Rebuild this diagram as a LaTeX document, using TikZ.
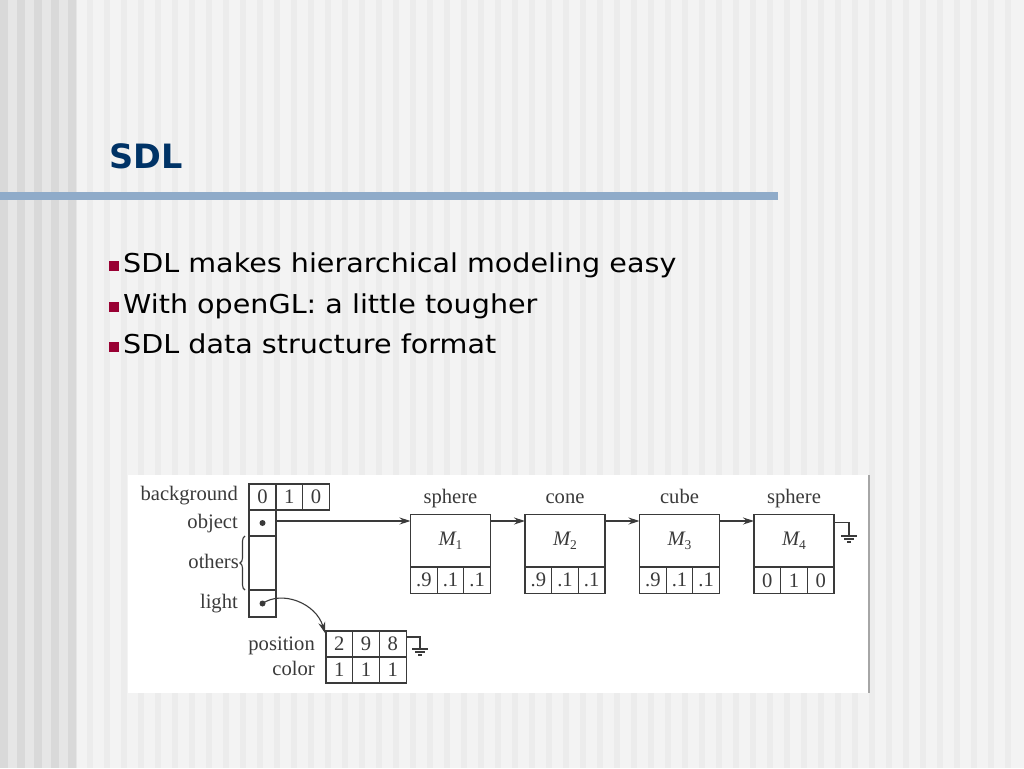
\documentclass[tikz,border=0pt]{standalone}
\usepackage{fontspec}
\setmainfont{DejaVu Sans}
\newfontfamily\diafont{Liberation Serif}
\usetikzlibrary{arrows.meta,decorations.pathreplacing}
\definecolor{titleblue}{RGB}{0,51,102}
\definecolor{barblue}{RGB}{143,171,201}
\definecolor{bulred}{RGB}{153,0,51}
\definecolor{ink}{RGB}{58,58,58}
\definecolor{bgbase}{RGB}{243,243,243}
\definecolor{bgleft}{RGB}{230,230,230}
\definecolor{bgdark}{RGB}{217,217,217}
\definecolor{bgfaint}{RGB}{236,236,236}
\begin{document}
\begin{tikzpicture}[x=1pt,y=-1pt,
  cell/.style={draw=ink,line width=1.1pt,minimum width=26.7pt,minimum height=26pt,inner sep=0pt,outer sep=0pt,font=\diafont\fontsize{20.6}{21}\selectfont,text=ink},
  mtop/.style={cell,minimum width=80pt,minimum height=52.5pt},
  mcell/.style={cell,minimum height=26.5pt},
  lbl/.style={anchor=base east,inner sep=0pt,font=\diafont\fontsize{20.6}{21}\selectfont,text=ink},
  captxt/.style={anchor=base,inner sep=0pt,font=\diafont\fontsize{20.6}{21}\selectfont,text=ink},
  arr/.style={draw=ink,line width=1.1pt,-{Stealth[length=11pt,width=7pt]}},
  wire/.style={draw=ink,line width=1.1pt},
  dotnode/.style={circle,fill=ink,inner sep=0pt,minimum size=6pt},
  bul/.style={anchor=base west,inner sep=0pt,font=\fontsize{26}{30}\selectfont,text=black},
  bulsq/.style={fill=bulred}
]
\useasboundingbox (0,0) rectangle (1024,768);
% background
\fill[bgbase] (0,0) rectangle (1024,768);
\fill[bgleft] (0,0) rectangle (77,768);
\foreach \x in {0,17,34,51,68} \fill[bgdark] (\x,0) rectangle (\x+8,768);
\foreach \x in {87,104,...,1020} \fill[bgfaint] (\x,0) rectangle (\x+6,768);
\fill[barblue] (0,192) rectangle (778,200);
% title and bullets
\node[anchor=base west,inner sep=0pt,font=\bfseries\fontsize{33.5}{36}\selectfont,text=titleblue] (title) at (109,168) {SDL};
\fill[bulsq] (109,261) rectangle (119,271);
\fill[bulsq] (109,302) rectangle (119,312);
\fill[bulsq] (109,342) rectangle (119,352);
\node[bul] (b1) at (123,272) {\scalebox{1.1}[1]{SDL makes hierarchical modeling easy}};
\node[bul] (b2) at (123,313) {\scalebox{1.1}[1]{With openGL: a little tougher}};
\node[bul] (b3) at (123,353) {\scalebox{1.1}[1]{SDL data structure format}};
% diagram area
\fill[white] (128,475) rectangle (869,693);
\draw[gray!70,line width=1.2pt] (869,475) -- (869,693);
% column
\node[cell,minimum width=27pt] (bg0) at (262.5,497) {0};
\node[cell,minimum width=26.5pt] (bg1) at (289.25,497) {1};
\node[cell,minimum width=27pt] (bg2) at (316,497) {0};
\node[cell,minimum width=27pt] (obj) at (262.5,523) {};
\node[cell,minimum width=27pt,minimum height=54pt] (oth) at (262.5,563) {};
\node[cell,minimum width=27pt,minimum height=27pt] (lgt) at (262.5,603.5) {};
\node[dotnode] (odot) at (obj.center) {};
\node[dotnode] (ldot) at (lgt.center) {};
\node[lbl] (lbg) at (238,500) {background};
\node[lbl] (lobj) at (238,528) {object};
\node[lbl] (loth) at (239,568) {others};
\node[lbl] (llgt) at (238,608) {light};
\draw[wire,decorate,decoration={brace,amplitude=5pt}] ([xshift=-4pt]oth.south west) -- ([xshift=-4pt]oth.north west);
% M boxes
\foreach \i/\L/\nm/\a/\b/\c in {1/410.5/sphere/.9/.1/.1,2/525/cone/.9/.1/.1,3/639.5/cube/.9/.1/.1,4/754/sphere/0/1/0}{
  \node[mtop] (M\i) at (\L+40,540.75) {\itshape M\raisebox{-4pt}{\upshape\fontsize{13.5}{14}\selectfont\i}};
  \node[mcell] (M\i a) at (\L+13.33,580.25) {\a};
  \node[mcell] (M\i b) at (\L+40,580.25) {\b};
  \node[mcell] (M\i c) at (\L+66.67,580.25) {\c};
  \node[captxt] (N\i) at (\L+40,503.5) {\nm};
}
\draw[arr] ([yshift=2pt]obj.east) -- ([yshift=-6.5pt]M1.north west);
\draw[arr] ([yshift=-6.5pt]M1.north east) -- ([yshift=-6.5pt]M2.north west);
\draw[arr] ([yshift=-6.5pt]M2.north east) -- ([yshift=-6.5pt]M3.north west);
\draw[arr] ([yshift=-6.5pt]M3.north east) -- ([yshift=-6.5pt]M4.north west);
% ground after M4
\coordinate (g2) at (849,536);
\draw[wire] ([yshift=-8pt]M4.north east) -| (g2);
\draw[wire] (g2) +(-8,0) -- +(8,0) +(-5,3) -- +(5,3) +(-2,6) -- +(2,6);
% position / color table
\node[cell] (pos0) at (339.3,644) {2};
\node[cell] (pos1) at (366,644) {9};
\node[cell] (pos2) at (392.7,644) {8};
\node[cell] (col0) at (339.3,670) {1};
\node[cell] (col1) at (366,670) {1};
\node[cell] (col2) at (392.7,670) {1};
\node[lbl] (lpos) at (315,650) {position};
\node[lbl] (lcol) at (315,675) {color};
\coordinate (g1) at (420,649);
\draw[wire] ([yshift=7pt]pos2.east) -| (g1);
\draw[wire] (g1) +(-8,0) -- +(8,0) +(-5,3) -- +(5,3) +(-2,6) -- +(2,6);
% light pointer
\draw[arr] (ldot.center) .. controls (282,590) and (316,603) .. ([xshift=-1pt,yshift=-2pt]pos0.north west);
\end{tikzpicture}
\end{document}
